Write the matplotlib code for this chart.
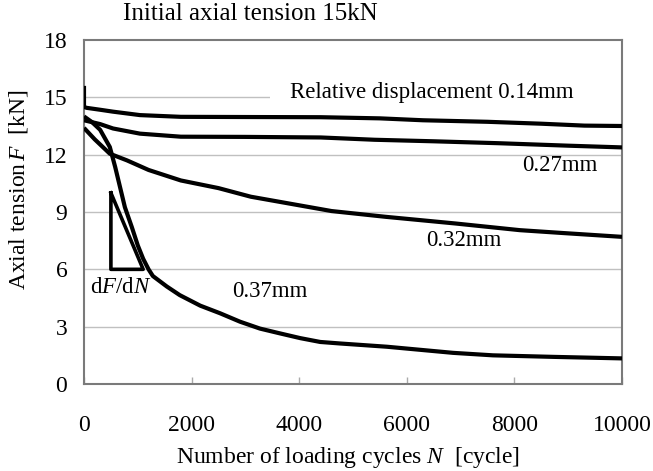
import matplotlib
matplotlib.use("Agg")
import matplotlib.pyplot as plt
from matplotlib.patches import Rectangle

plt.rcParams['font.family'] = ['Liberation Serif', 'DejaVu Serif']
plt.rcParams['mathtext.fontset'] = 'custom'
plt.rcParams['mathtext.rm'] = 'Liberation Serif'
plt.rcParams['mathtext.it'] = 'Liberation Serif:italic'

# ---- data ----
n_014 = [0, 0, 50, 300, 540, 1040, 1800, 3000, 4400, 5500, 6300, 7500, 8500, 9300, 10000]
f_014 = [15.6, 14.5, 14.45, 14.35, 14.25, 14.07, 13.98, 13.97, 13.96, 13.9, 13.8, 13.72, 13.62, 13.52, 13.5]

n_027 = [0, 300, 540, 1040, 1800, 3000, 4400, 5400, 6500, 7700, 9000, 10000]
f_027 = [13.8, 13.6, 13.37, 13.1, 12.94, 12.93, 12.9, 12.78, 12.7, 12.6, 12.47, 12.38]

n_032 = [0, 200, 480, 800, 1200, 1800, 2500, 3100, 3800, 4600, 5600, 6900, 8100, 8900, 10000]
f_032 = [13.4, 12.8, 12.05, 11.7, 11.2, 10.65, 10.25, 9.8, 9.45, 9.05, 8.75, 8.4, 8.05, 7.9, 7.7]

n_037 = [0, 150, 300, 480, 580, 670, 760, 890, 1000, 1100, 1200, 1280, 1540, 1780, 2160, 2530, 2900,
         3270, 3640, 4020, 4390, 4760, 5630, 6860, 7600, 8720, 10000]
f_037 = [14.0, 13.7, 13.3, 12.4, 11.35, 10.3, 9.25, 8.2, 7.25, 6.55, 6.0, 5.65, 5.1, 4.65, 4.1, 3.7, 3.26,
         2.9, 2.65, 2.4, 2.2, 2.12, 1.95, 1.63, 1.5, 1.42, 1.34]

tri_n = [500, 500, 1100, 500]
tri_f = [10.0, 6.0, 6.0, 10.0]

x_ticks = [0, 2000, 4000, 6000, 8000, 10000]
y_ticks = [0, 3, 6, 9, 12, 15, 18]

# ---- figure ----
fig = plt.figure(figsize=(6.53, 4.71), dpi=100)
ax = fig.add_axes([84/653, 1-384/471, (622-84)/653, (384-40)/471])

ax.set_xlim(0, 10000)
ax.set_ylim(0, 18)
ax.set_xticks(x_ticks)
ax.set_yticks(y_ticks)
ax.set_xticklabels([str(v) for v in x_ticks])
ax.set_yticklabels([str(v) for v in y_ticks])

for y in y_ticks[1:-1]:
    ax.axhline(y, color='#c0c0c0', lw=1.0, zorder=1)

# white break in the 15 kN gridline behind the label
ax.add_patch(Rectangle((0.346, 14.85), 0.66, 0.3, transform=ax.get_yaxis_transform(),
                       facecolor='white', edgecolor='none', zorder=1.5))

lw = 3.0
for n, f in [(n_014, f_014), (n_027, f_027), (n_032, f_032), (n_037, f_037)]:
    ax.plot(n, f, color='black', lw=lw, zorder=3, solid_joinstyle='round', solid_capstyle='butt')
ax.plot(tri_n, tri_f, color='black', lw=2.6, zorder=3)

for s in ax.spines.values():
    s.set_color('#7a7a7a')
    s.set_linewidth(1.5)

ax.tick_params(axis='x', direction='in', length=5, width=1, color='#aaaaaa', pad=22, labelsize=17)
ax.tick_params(axis='y', length=0, pad=12, labelsize=17)

ax.set_xlabel('Number of loading cycles $\\mathit{N}$  [cycle]', fontsize=17)
ax.xaxis.set_label_coords(0.49, -0.178)
ax.set_ylabel('Axial tension$\\,\\mathit{F}$  [kN]', fontsize=17)
ax.yaxis.set_label_coords(-0.10, 0.564)

fig.text(123/653, 1-14/471, 'Initial axial tension 15kN', fontsize=18, va='center', ha='left')

ax.text(3829, 15.25, 'Relative displacement 0.14mm', fontsize=16.5, va='center', ha='left', zorder=4)
ax.text(8848, 11.45, '0.27mm', fontsize=16.5, va='center', ha='center')
ax.text(7063, 7.5, '0.32mm', fontsize=16.5, va='center', ha='center')
ax.text(3448, 4.85, '0.37mm', fontsize=16.5, va='center', ha='center')
ax.text(688, 5.05, 'd$\\mathit{F}$/d$\\mathit{N}$', fontsize=16.5, va='center', ha='center')

fig.savefig('out.png', dpi=100)
